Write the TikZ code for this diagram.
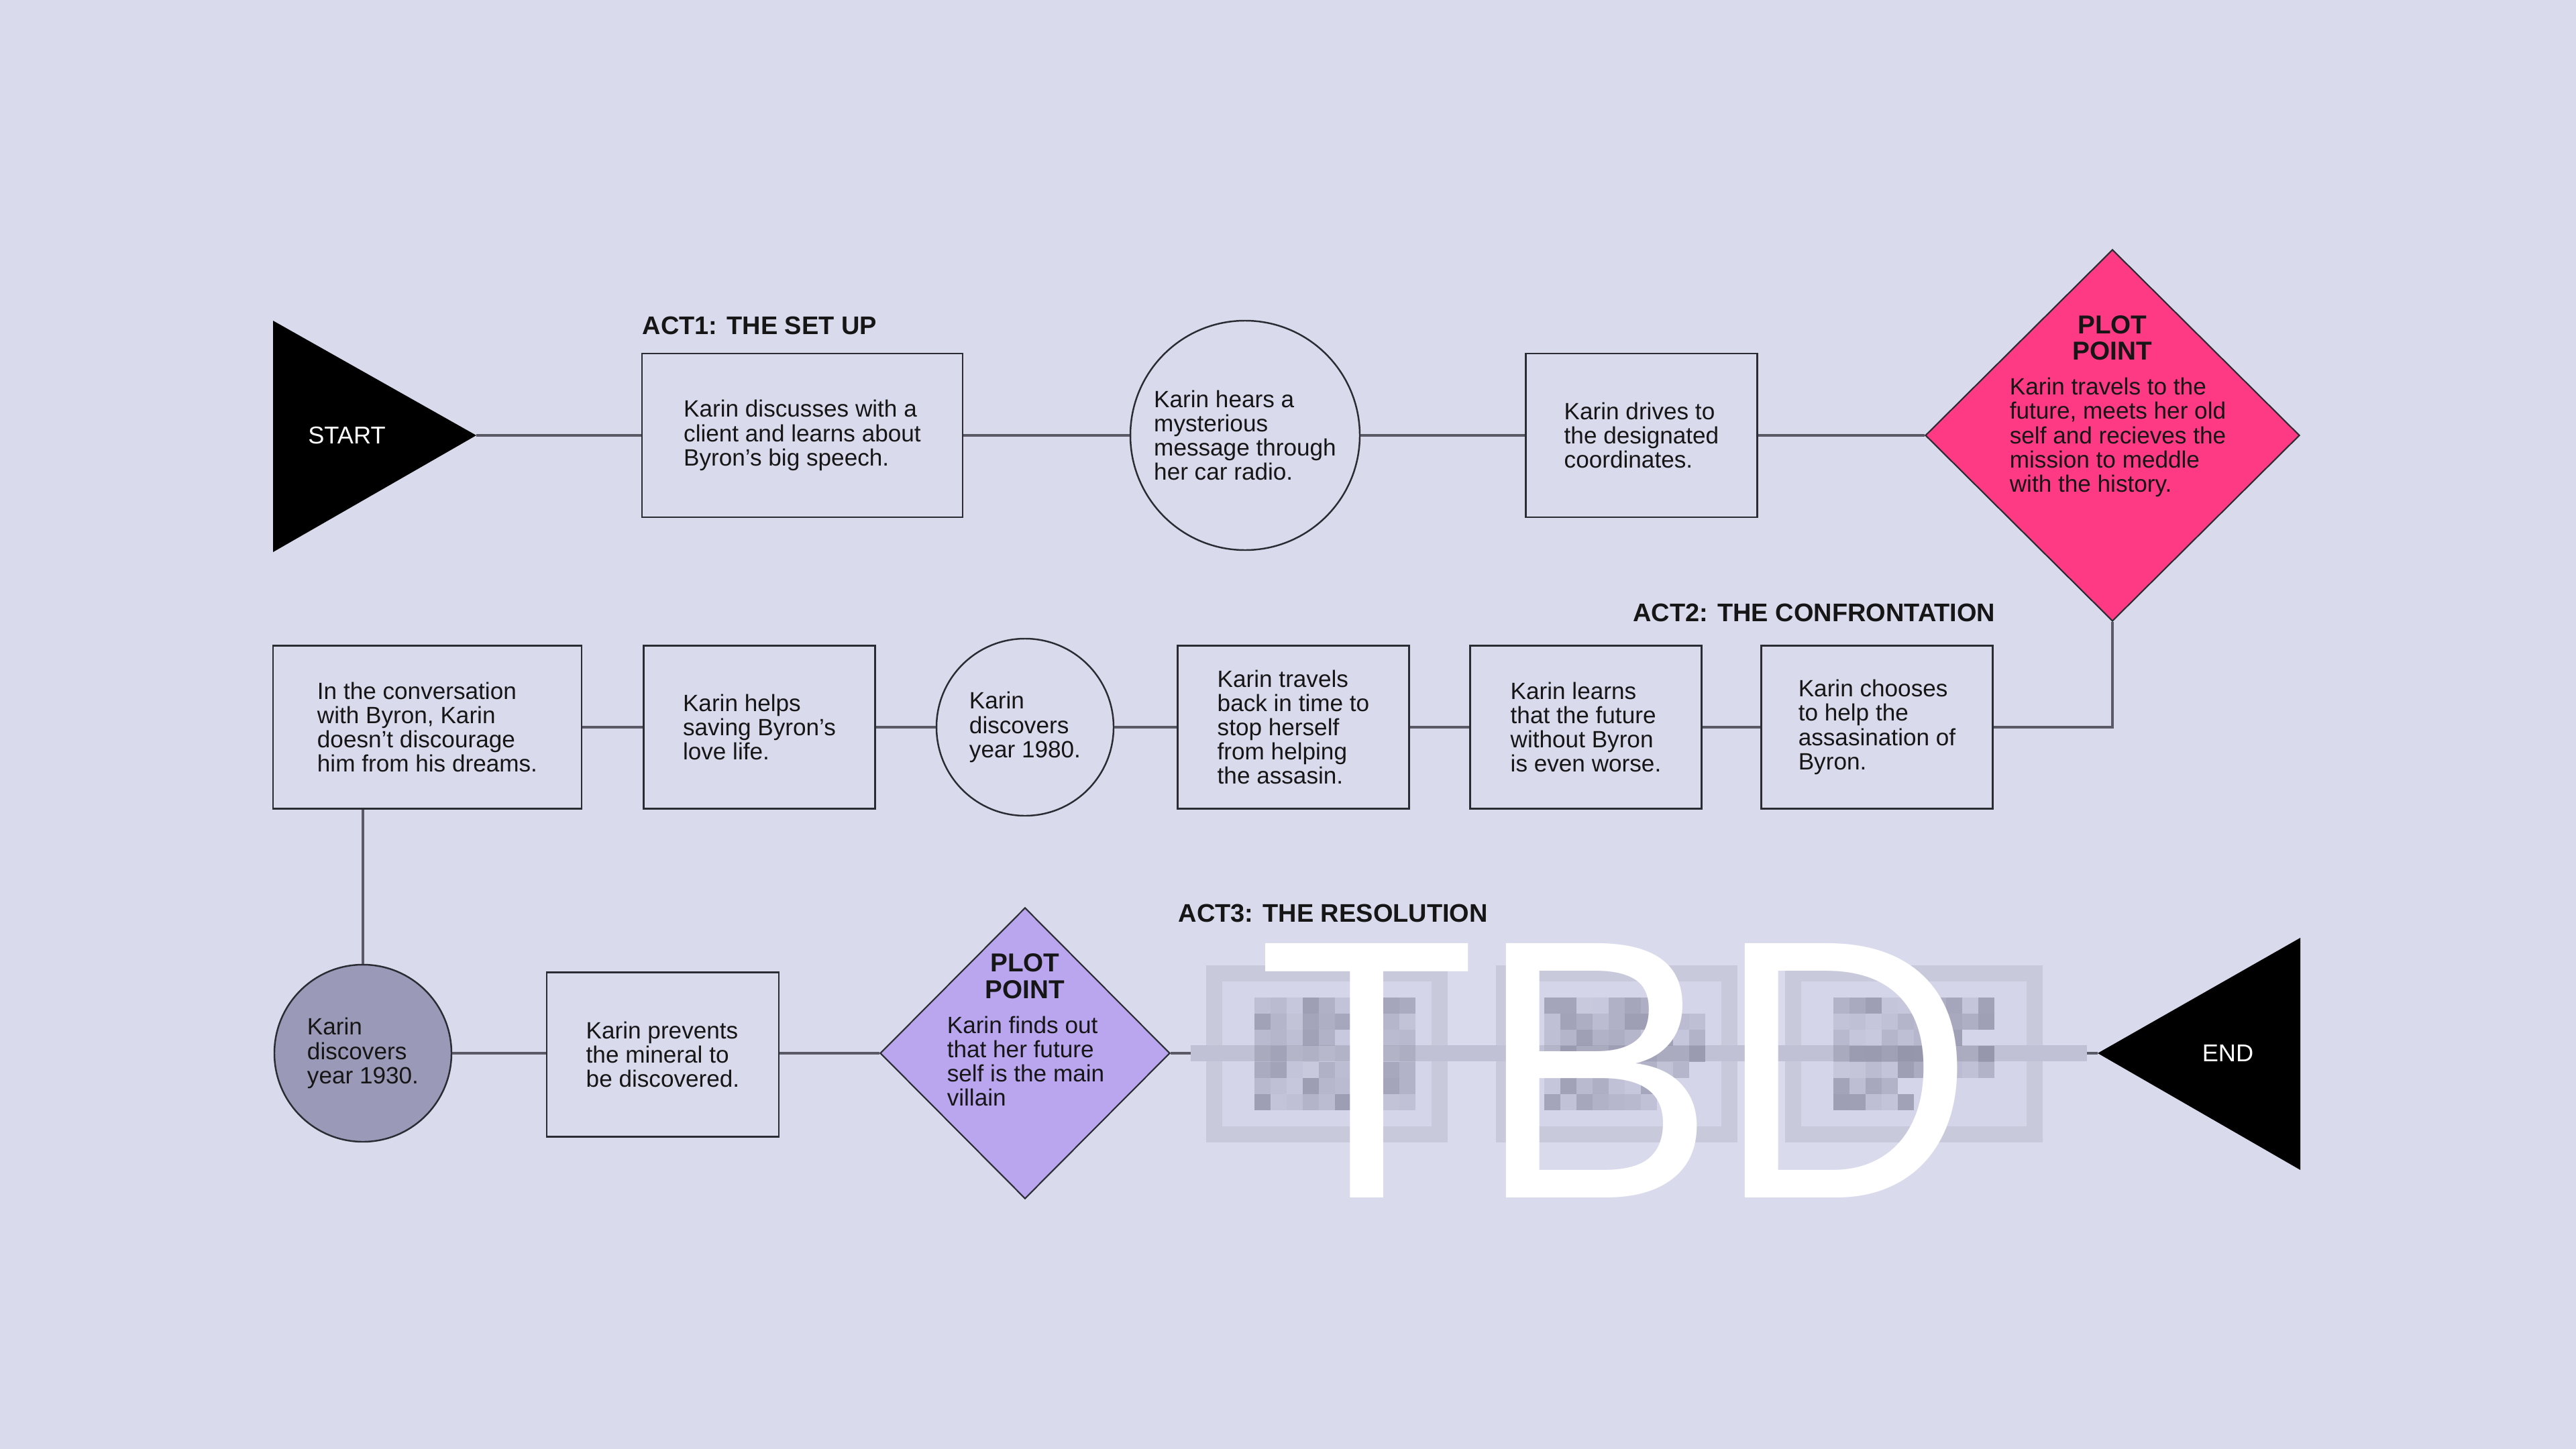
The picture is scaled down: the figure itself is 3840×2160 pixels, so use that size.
\documentclass[tikz,border=0pt]{standalone}
\usepackage{fontspec}
\setmainfont{Liberation Sans}
\usepackage{graphicx}
\usetikzlibrary{shapes.geometric}
\definecolor{bg}{HTML}{D9DAEC}
\definecolor{pinkpp}{HTML}{FF3A84}
\definecolor{purplepp}{HTML}{B9A6EE}
\definecolor{darkcirc}{HTML}{9A9AB8}
\definecolor{edgec}{HTML}{2B2B33}
\definecolor{connc}{HTML}{5A5A66}
\definecolor{txtc}{HTML}{161616}
\definecolor{fadeband}{HTML}{C8C9DB}
\definecolor{fadein}{HTML}{D4D5E9}
\definecolor{bandc}{HTML}{C0C1D4}
\definecolor{pixc}{HTML}{7C7C94}
\newcommand\bdfont{\fontsize{10}{10.3}\selectfont}
\newcommand\ppfont{\fontsize{11}{11.2}\selectfont\bfseries}
\newcommand\actfont{\fontsize{10.8}{12}\selectfont\bfseries}
\newcommand\termfont{\fontsize{10.3}{12}\selectfont}
\begin{document}
\begin{tikzpicture}[x=0.1mm,y=-0.1mm,
  stepbox/.style={draw=edgec, line width=0.8pt, minimum height=24.4mm, align=left, inner sep=0pt, font=\bdfont, text=txtc},
  circ/.style={circle, draw=edgec, line width=0.7pt, align=left, inner sep=0pt, font=\bdfont, text=txtc},
  pdiam/.style={diamond, draw=edgec, line width=0.6pt, inner sep=0pt},
  pptitle/.style={font=\ppfont, align=center, text=txtc, inner sep=0pt},
  ppbody/.style={font=\bdfont, align=left, text=txtc, inner sep=0pt},
  actlbl/.style={font=\actfont, text=txtc, inner sep=0pt},
  termlbl/.style={font=\termfont, text=white, inner sep=0pt},
  link/.style={draw=connc, line width=0.9pt}
]
\fill[bg] (0,0) rectangle (3840,2160);
\useasboundingbox (0,0) rectangle (3840,2160);

% ---------- Row 1 ----------
\fill[black] (407,478) -- (407,823) -- (710,649) -- cycle;
\node[termlbl] (start) at (517,649) {START};
\coordinate (starttip) at (710,649);

\node[actlbl, anchor=west] (act1) at (957,485) {ACT1: THE SET UP};

\node[stepbox, minimum width=47.8mm] (b1) at (1196,649) {Karin discusses with a\\client and learns about\\Byron’s big speech.};
\node[circ, minimum size=34.2mm] (c1) at (1856,649) {Karin hears a\\mysterious\\message through\\her car radio.};
\node[stepbox, minimum width=34.5mm] (b2) at (2447,649) {Karin drives to\\the designated\\coordinates.};
\node[pdiam, fill=pinkpp, minimum width=55.8mm, minimum height=55.4mm] (pp1) at (3149,649) {};
\node[pptitle] (pp1t) at (3149,504) {PLOT\\POINT};
\node[ppbody] (pp1b) at (3157,652) {Karin travels to the\\future, meets her old\\self and recieves the\\mission to meddle\\with the history.};

% ---------- Row 2 ----------
\node[actlbl, anchor=east] (act2) at (2975,913) {ACT2: THE CONFRONTATION};

\node[stepbox, minimum width=46mm, minimum height=24.3mm] (bA) at (637,1084) {In the conversation\\with Byron, Karin\\doesn’t discourage\\him from his dreams.};
\node[stepbox, minimum width=34.5mm, minimum height=24.3mm] (bB) at (1132,1084) {Karin helps\\saving Byron’s\\love life.};
\node[circ, minimum size=26.4mm] (c2) at (1528,1084) {Karin\\discovers\\year 1980.};
\node[stepbox, minimum width=34.5mm, minimum height=24.3mm] (bC) at (1928,1084) {Karin travels\\back in time to\\stop herself\\from helping\\the assasin.};
\node[stepbox, minimum width=34.5mm, minimum height=24.3mm] (bD) at (2364,1084) {Karin learns\\that the future\\without Byron\\is even worse.};
\node[stepbox, minimum width=34.5mm, minimum height=24.3mm] (bE) at (2798,1084) {Karin chooses\\to help the\\assasination of\\Byron.};

% ---------- Row 3 ----------
\node[actlbl, anchor=west] (act3) at (1756,1361) {ACT3: THE RESOLUTION};

\node[circ, fill=darkcirc, minimum size=26.4mm] (c3) at (541,1570) {Karin\\discovers\\year 1930.};
\node[stepbox, minimum width=34.6mm, minimum height=24.5mm] (b3) at (988,1572) {Karin prevents\\the mineral to\\be discovered.};
\node[pdiam, fill=purplepp, minimum width=43.2mm, minimum height=43.4mm] (pp2) at (1528,1570) {};
\node[pptitle] (pp2t) at (1528,1455) {PLOT\\POINT};
\node[ppbody] (pp2b) at (1529,1582) {Karin finds out\\that her future\\self is the main\\villain};

\fill[black] (3127,1570) -- (3429,1398) -- (3429,1744) -- cycle;
\node[termlbl] (endlbl) at (3321,1570) {END};
\coordinate (endtip) at (3127,1570);

% ---------- Connectors ----------
\draw[link] (starttip) -- (b1.west);
\draw[link] (b1.east) -- (c1.west);
\draw[link] (c1.east) -- (b2.west);
\draw[link] (b2.east) -- (pp1.west);
\draw[link] (pp1.south) |- (bE.east);
\draw[link] (bE.west) -- (bD.east);
\draw[link] (bD.west) -- (bC.east);
\draw[link] (bC.west) -- (c2.east);
\draw[link] (c2.west) -- (bB.east);
\draw[link] (bB.west) -- (bA.east);
\draw[link] (c3.north |- bA.south) -- (c3.north);
\draw[link] (c3.east) -- (b3.west |- c3.east);
\draw[link] (b3.east |- pp2.east) -- (pp2.west);
\draw[link] (pp2.east) -- (endtip);

% ---------- Obscured (pixelated) part ----------
\foreach \xa/\xb in {1798/2158, 2230/2590, 2661/3045}{
  \fill[fadeband] (\xa,1439) rectangle (\xb,1703);
  \fill[fadein] (\xa+24,1463) rectangle (\xb-24,1679);
}
\fill[bandc] (1775,1558) rectangle (3111,1582);
\pgfmathsetseed{42}
\foreach \xo/\la/\lb/\lc/\ld/\le/\lf/\lg in {1870/10/10/10/10/10/10/10, 2302/8/10/10/10/9/8/7, 2733/10/10/8/10/10/4/5}{
  \foreach \j/\len in {0/\la,1/\lb,2/\lc,3/\ld,4/\le,5/\lf,6/\lg}{
    \pgfmathtruncatemacro\lastcol{\len-1}
    \foreach \i in {0,...,\lastcol}{
      \pgfmathsetmacro\op{0.12+0.5*rnd}
      \fill[pixc, opacity=\op] (\xo+\i*24,1487+\j*24) rectangle ++(24,24);
    }
  }
}

\node[anchor=base west, inner sep=0pt, text=white, font=\fontsize{156.8}{160}\selectfont] (tbd) at (1874,1785) {\scalebox{0.97}[1]{TBD}};
\end{tikzpicture}
\end{document}
